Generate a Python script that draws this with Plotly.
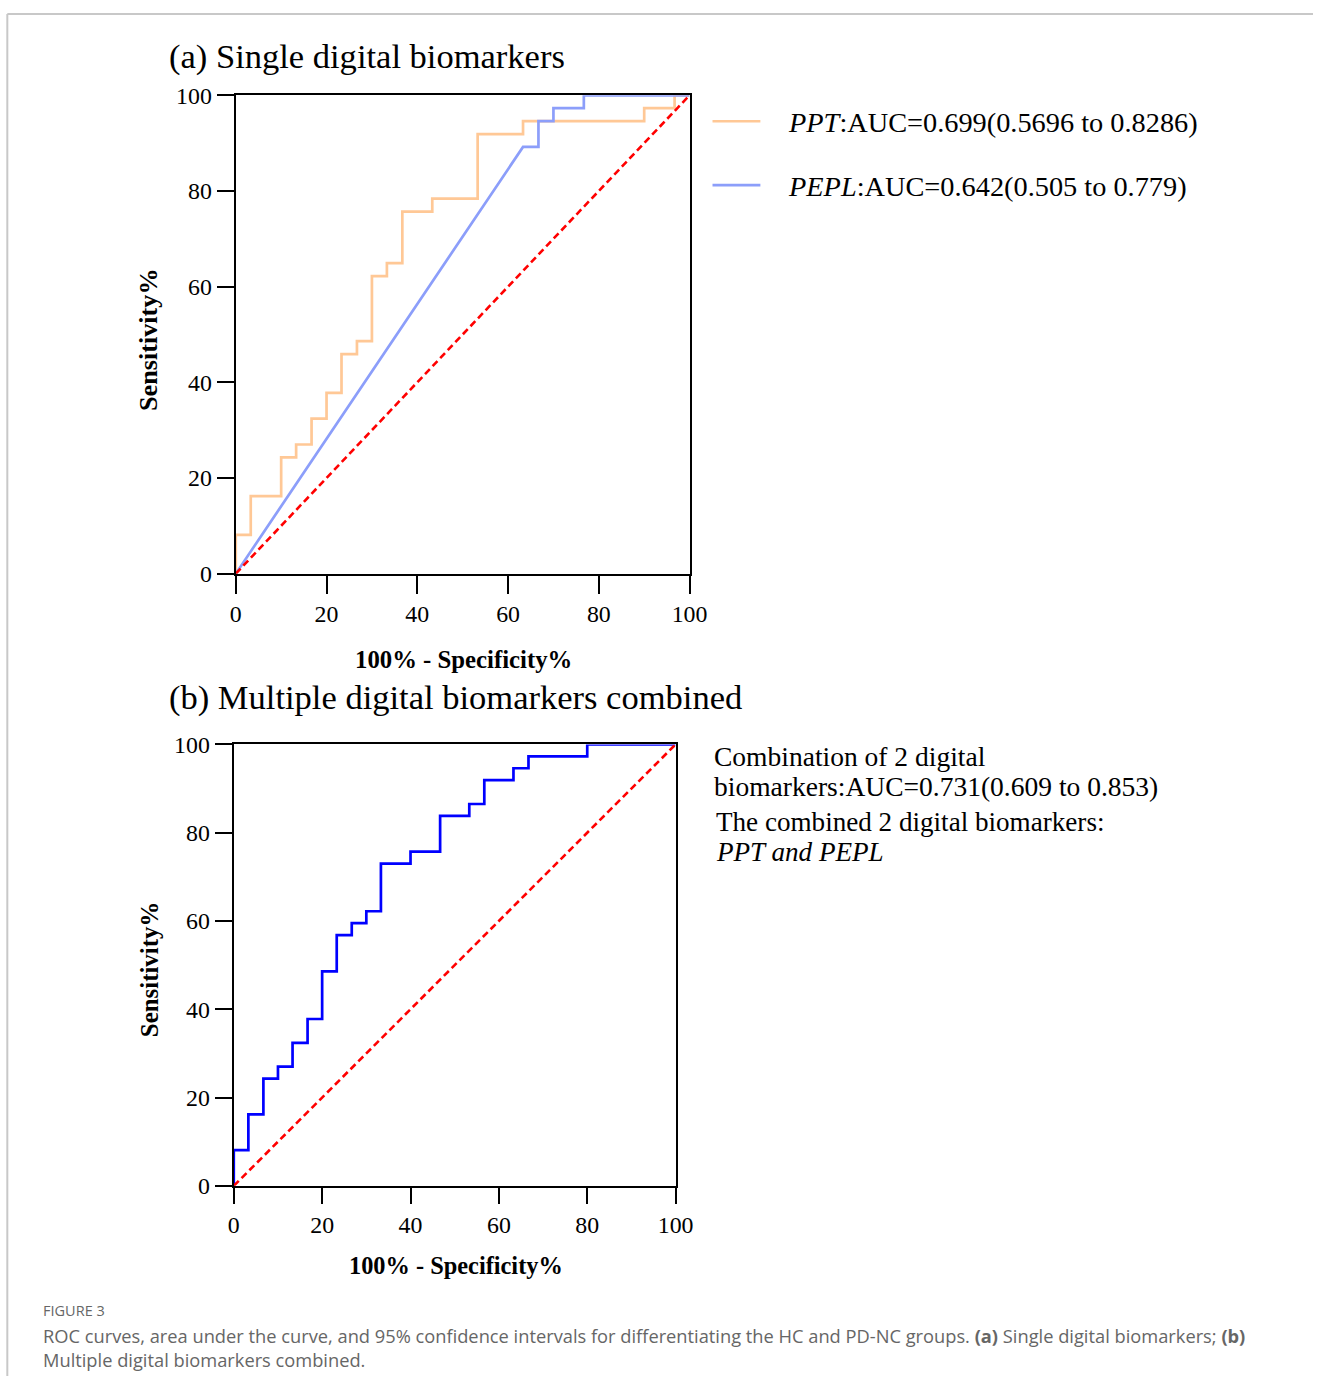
import plotly.graph_objects as go

# ---------------- data ----------------
ticks = [0, 20, 40, 60, 80, 100]
diag = [0, 100]

ppt_x = [0, 3.3, 10.0, 13.3, 16.7, 20.0, 23.3, 26.7, 30.0, 33.3, 36.7, 43.3, 53.3, 63.3, 90.0, 96.7, 100]
ppt_y = [0, 8.1, 16.2, 24.3, 27.0, 32.4, 37.8, 45.9, 48.6, 62.2, 64.9, 75.7, 78.4, 91.9, 94.6, 97.3, 100]

pepl_x = [0, 63.3, 66.7, 66.7, 70.0, 70.0, 76.7, 76.7, 100]
pepl_y = [0, 89.2, 89.2, 94.6, 94.6, 97.3, 97.3, 100, 100]

comb_x = [0, 3.3, 6.7, 10.0, 13.3, 16.7, 20.0, 23.3, 26.7, 30.0, 33.3, 40.0, 46.7, 53.3, 56.7, 63.3, 66.7, 80.0, 100]
comb_y = [0, 8.1, 16.2, 24.3, 27.0, 32.4, 37.8, 48.6, 56.8, 59.5, 62.2, 73.0, 75.7, 83.8, 86.5, 91.9, 94.6, 97.3, 100]

ppt_label = "<i>PPT</i>:AUC=0.699(0.5696 to 0.8286)"
pepl_label = "<i>PEPL</i>:AUC=0.642(0.505 to 0.779)"
comb_lines = ["Combination of 2 digital",
              "biomarkers:AUC=0.731(0.609 to 0.853)",
              "The combined 2 digital biomarkers:",
              "<i>PPT and PEPL</i>"]
title_a = "(a) Single digital biomarkers"
title_b = "(b) Multiple digital biomarkers combined"
x_title = "100% - Specificity%"
y_title = "Sensitivity%"
fig_label = "FIGURE 3"
caption = ("ROC curves, area under the curve, and 95% confidence intervals for differentiating the HC and "
           "PD-NC groups. <b>(a)</b> Single digital biomarkers; <b>(b)</b><br>Multiple digital biomarkers combined.")

# ---------------- layout helpers ----------------
W, H = 1331, 1389
SX, OX = 0.9846, 4.6      # picture = SX * page + OX (observed on the rendered screenshot)
SY, OY = 0.9826, 11.6
def px(x): return ((x - OX) / SX) / W
def py(y): return 1 - ((y - OY) / SY) / H
FS = 1 / SX               # font compensation

SERIF = "Liberation Serif"
C_PPT = "#FFC896"
C_PEPL = "#8C9EFA"
C_COMB = "#0000FF"
C_DIAG = "#FF0000"

fig = go.Figure()

# top panel
fig.add_trace(go.Scatter(x=ppt_x, y=ppt_y, mode="lines", line=dict(color=C_PPT, width=2.7, shape="vh"),
                         xaxis="x", yaxis="y", showlegend=False))
fig.add_trace(go.Scatter(x=pepl_x, y=pepl_y, mode="lines", line=dict(color=C_PEPL, width=2.7),
                         xaxis="x", yaxis="y", showlegend=False))
fig.add_trace(go.Scatter(x=diag, y=diag, mode="lines", line=dict(color=C_DIAG, width=2.6, dash="7px,4px"),
                         xaxis="x", yaxis="y", showlegend=False))
# bottom panel
fig.add_trace(go.Scatter(x=comb_x, y=comb_y, mode="lines", line=dict(color=C_COMB, width=2.7, shape="vh"),
                         xaxis="x2", yaxis="y2", showlegend=False))
fig.add_trace(go.Scatter(x=diag, y=diag, mode="lines", line=dict(color=C_DIAG, width=2.6, dash="7px,4px"),
                         xaxis="x2", yaxis="y2", showlegend=False))

ax_common = dict(range=[0, 100], tickvals=ticks, showgrid=False, zeroline=False, showline=True,
                 linecolor="black", linewidth=2.3, mirror=True, ticks="outside", tickcolor="black",
                 tickwidth=2.3, tickfont=dict(family=SERIF, size=23.5 * FS, color="black"), fixedrange=True)

fig.update_layout(
    width=W, height=H, margin=dict(l=0, r=0, t=0, b=0),
    paper_bgcolor="white", plot_bgcolor="white",
    xaxis=dict(ax_common, domain=[px(235), px(690)], anchor="y", ticklen=18),
    yaxis=dict(ax_common, domain=[py(573), py(94)], anchor="x", ticklen=17),
    xaxis2=dict(ax_common, domain=[px(233), px(676)], anchor="y2", ticklen=16),
    yaxis2=dict(ax_common, domain=[py(1186), py(744)], anchor="x2", ticklen=17),
)

ann = []
def A(text, x, y, size, xanchor="left", yanchor="middle", family=SERIF, color="black", angle=0, align="left"):
    ann.append(dict(text=text, x=px(x), y=py(y), xref="paper", yref="paper", showarrow=False,
                    xanchor=xanchor, yanchor=yanchor, textangle=angle, align=align,
                    font=dict(family=family, size=size * FS, color=color)))

A(title_a, 166, 55, 34.0)
A(title_b, 166, 697, 34.0)
A("<b>%s</b>" % x_title, 463, 659, 24.4, xanchor="center")
A("<b>%s</b>" % x_title, 456, 1266, 24.0, xanchor="center")
A("<b>%s</b>" % y_title, 148, 339, 25.8, xanchor="center", angle=-90)
A("<b>%s</b>" % y_title, 148, 970, 24.5, xanchor="center", angle=-90)
A(ppt_label, 787, 121, 27.9)
A(pepl_label, 787, 185, 27.9)
A(comb_lines[0], 712, 756, 27.1)
A(comb_lines[1], 712, 786, 27.1)
A(comb_lines[2], 714, 822, 26.7)
A(comb_lines[3], 714, 852, 26.7)
A(fig_label, 40, 1310, 14.3, family="Open Sans, sans-serif", color="#666666")
A(caption, 40, 1348, 18.0, family="Open Sans, sans-serif", color="#666666")
fig.update_layout(annotations=ann)

shapes = [
    dict(type="line", xref="paper", yref="paper", x0=px(713), x1=px(761), y0=py(120), y1=py(120),
         line=dict(color=C_PPT, width=2.7)),
    dict(type="line", xref="paper", yref="paper", x0=px(713), x1=px(761), y0=py(184), y1=py(184),
         line=dict(color=C_PEPL, width=2.7)),
    # page frame (top and left edges)
    dict(type="line", xref="paper", yref="paper", x0=0.001, x1=1, y0=0.9993, y1=0.9993,
         line=dict(color="#C8C8C8", width=2)),
    dict(type="line", xref="paper", yref="paper", x0=0.001, x1=0.001, y0=0.9993, y1=0,
         line=dict(color="#C8C8C8", width=2)),
]
fig.update_layout(shapes=shapes)

fig.write_html("out.html", config={"displayModeBar": False},
               post_script="document.body.style.margin='0';")
